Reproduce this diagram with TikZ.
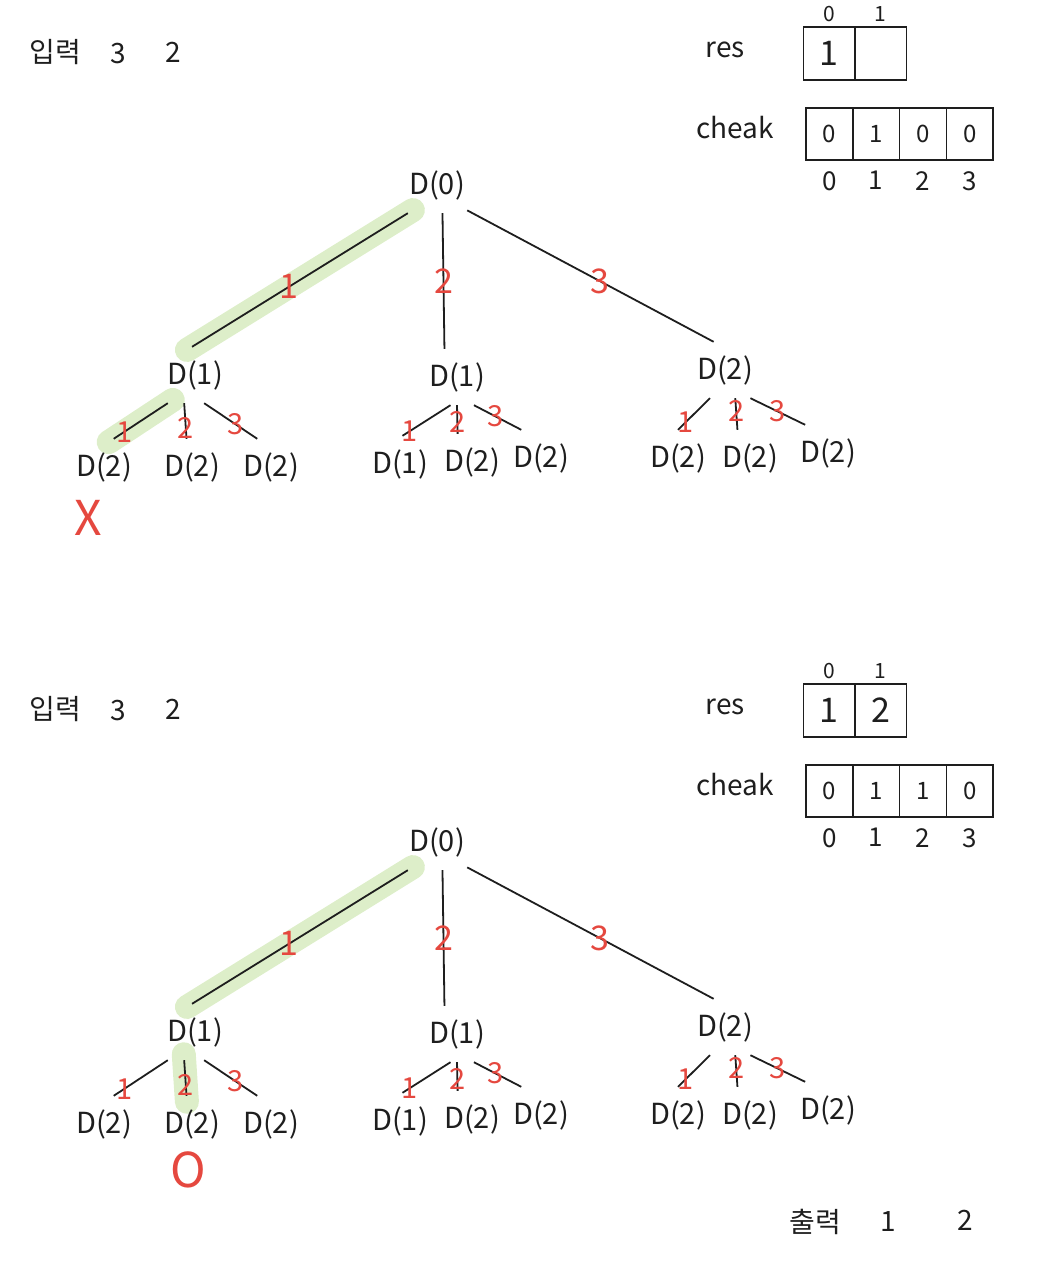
\documentclass[tikz,border=0pt]{standalone}
\usepackage{fontspec}
\setmainfont{Noto Sans CJK KR}
\usetikzlibrary{positioning,backgrounds}
\definecolor{Pen}{HTML}{1E1E1E}
\definecolor{Marker}{HTML}{E5483F}
\definecolor{Glow}{HTML}{DDEEC9}
\tikzset{
  note/.style={text=Pen, inner sep=0pt, font=\fontsize{28}{30}\selectfont},
  call/.style={minimum width=60pt, minimum height=56pt, inner sep=0pt,
    text=Pen, font=\fontsize{29}{30}\selectfont},
  branch/.style={draw=Pen, line width=1.8pt},
  pick/.style={text=Marker, inner sep=0pt, font=\fontsize{34}{34}\selectfont},
  smallpick/.style={text=Marker, inner sep=0pt, font=\fontsize{29}{29}\selectfont},
  glow/.style={draw=Glow, line width=24pt, line cap=round,
    shorten <=-6pt, shorten >=-6pt},
  bigcell/.style={draw=Pen, line width=1.5pt, outer sep=0pt, inner sep=0pt,
    minimum width=51.5pt, minimum height=53pt, text=Pen,
    font=\fontsize{34}{34}\selectfont},
  smallcell/.style={draw=Pen, line width=1.5pt, outer sep=0pt, inner sep=0pt,
    minimum width=46.8pt, minimum height=52pt, text=Pen,
    font=\fontsize{24}{24}\selectfont},
  idx/.style={text=Pen, inner sep=0pt, font=\fontsize{26}{26}\selectfont},
  topidx/.style={text=Pen, inner sep=0pt, font=\fontsize{21}{21}\selectfont},
  verdict/.style={text=Marker, inner sep=0pt, font=\fontsize{48}{48}\selectfont}
}

\begin{document}
\begin{tikzpicture}[x=1pt,y=-1pt]
  \useasboundingbox (0,0) rectangle (1058,1268);
  % the same sketch twice, one step of the search apart
  \foreach \p/\dy/\second/\third in {a/0/{}/0, b/657/2/1}{
    \begin{scope}[shift={(0,\dy)}]
      \node[note] (\p-in) at (55,52) {입력};
      \node[note] (\p-n) at (118,54) {3};
      \node[note] (\p-k) at (173,52) {2};
      % arrays
      \node[note] (\p-res) at (725,50) {res};
      \node[bigcell] (\p-r0) at (829,53.5) {1};
      \node[bigcell, right=0pt of \p-r0] (\p-r1) {\second};
      \node[topidx, above=5pt of \p-r0] (\p-j0) {0};
      \node[topidx, above=5pt of \p-r1] (\p-j1) {1};
      \node[note] (\p-cheak) at (735,128) {cheak};
      \node[smallcell] (\p-c0) at (829.4,134) {0};
      \node[smallcell, right=0pt of \p-c0] (\p-c1) {1};
      \node[smallcell, right=0pt of \p-c1] (\p-c2) {\third};
      \node[smallcell, right=0pt of \p-c2] (\p-c3) {0};
      \foreach \i in {0,...,3}
        \node[idx, below=11pt of \p-c\i] (\p-i\i) {\i};
      % recursion tree
      \node[call] (\p-root) at (437,185) {D(0)};
      \node[call] (\p-l) at (195,375) {D(1)};
      \node[call] (\p-m) at (457,377) {D(1)};
      \node[call] (\p-r) at (725,370) {D(2)};
      \node[call] (\p-l1) at (104,467) {D(2)};
      \node[call] (\p-l2) at (192,467) {D(2)};
      \node[call] (\p-l3) at (271,467) {D(2)};
      \node[call] (\p-m1) at (400,464) {D(1)};
      \node[call] (\p-m2) at (472,462) {D(2)};
      \node[call] (\p-m3) at (541,458) {D(2)};
      \node[call] (\p-r1) at (678,458) {D(2)};
      \node[call] (\p-r2) at (750,458) {D(2)};
      \node[call] (\p-r3) at (828,453) {D(2)};
      \draw[branch] (\p-root.224) -- node[pick, pos=.55] {1} (\p-l.96);
      \draw[branch] (\p-root.281) -- node[pick, pos=.5] {2} (\p-m.114);
      \draw[branch] (\p-root.320) -- node[pick, pos=.54] {3} (\p-r.112);
      \draw[branch] (\p-l.226) -- node[smallpick, pos=.8] {1} (\p-l1.71);
      \draw[branch] (\p-l.249) -- node[smallpick, pos=.7] {2} (\p-l2.101);
      \draw[branch] (\p-l.288) -- node[smallpick, pos=.6] {3} (\p-l3.116);
      \draw[branch] (\p-m.257) -- node[smallpick, pos=.85] {1} (\p-m1.85);
      \draw[branch] (\p-m.270) -- node[smallpick, pos=.6] {2} (\p-m2.117);
      \draw[branch] (\p-m.301) -- node[smallpick, pos=.45] {3} (\p-m3.125);
      \draw[branch] (\p-r.242) -- node[smallpick, pos=.75] {1} (\p-r1.90);
      \draw[branch] (\p-r.290) -- node[smallpick, pos=.4] {2} (\p-r2.114);
      \draw[branch] (\p-r.312) -- node[smallpick, pos=.5] {3} (\p-r3.129);
    \end{scope}
  }
  % chosen paths
  \begin{pgfonlayer}{background}
    \draw[glow] (a-root.224) -- (a-l.96);
    \draw[glow] (a-l.226) -- (a-l1.71);
    \draw[glow] (b-root.224) -- (b-l.96);
    \draw[glow] (b-l.249) -- (b-l2.101);
  \end{pgfonlayer}
  \node[verdict] (a-fail) at (88,518) {X};
  \node[verdict] (b-ok) at (188,1170) {O};
  \node[note] (b-out) at (815,1222) {출력};
  \node[note] (b-o1) at (888,1222) {1};
  \node[note] (b-o2) at (965,1220) {2};
\end{tikzpicture}
\end{document}
